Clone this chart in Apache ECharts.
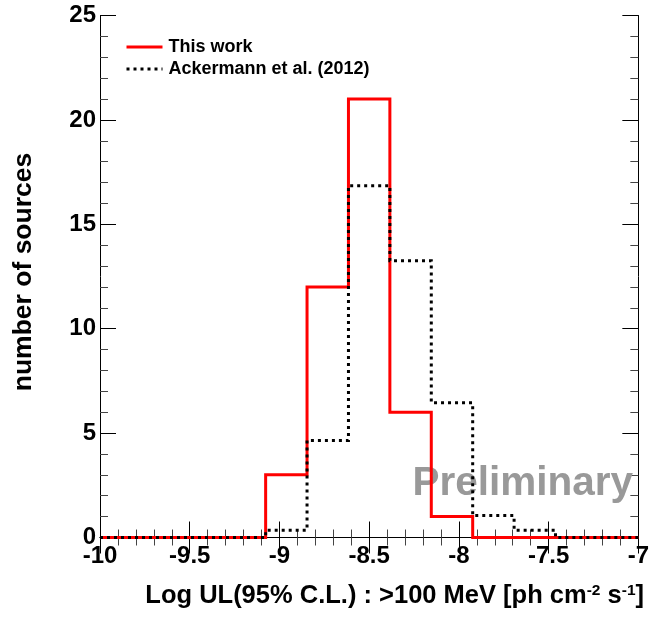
<!DOCTYPE html>
<html>
<head>
<meta charset="utf-8">
<script src="https://cdn.jsdelivr.net/npm/echarts@6/dist/echarts.min.js"></script>
<style>
html,body{margin:0;padding:0;background:#fff;}
#chart{width:652px;height:622px;}
</style>
</head>
<body>
<div id="chart"></div>
<script>
// Bin edges: 13 bins from -10 to -7
var binEdges = [-10, -9.7692, -9.5385, -9.3077, -9.0769, -8.8462, -8.6154, -8.3846, -8.1538, -7.9231, -7.6923, -7.4615, -7.2308, -7];
var thisWork = [0, 0, 0, 0, 3, 12, 21, 6, 1, 0, 0, 0, 0];
var ackermann = [0, 0, 0, 0, 0.35, 4.65, 16.85, 13.25, 6.45, 1.05, 0.35, 0, 0];
var xTickLabels = ['-10', '-9.5', '-9', '-8.5', '-8', '-7.5', '-7'];
var yTickLabels = ['0', '5', '10', '15', '20', '25'];

function stepData(vals) {
  var d = vals.map(function (v, i) { return [binEdges[i], v]; });
  d.push([binEdges[binEdges.length - 1], vals[vals.length - 1]]);
  return d;
}

var FONT = 'Liberation Sans';
var chart = echarts.init(document.getElementById('chart'), null, {renderer: 'canvas'});

function axisCommon(extra) {
  var base = {
    type: 'value',
    axisLine: {show: true, lineStyle: {color: '#000', width: 1}},
    axisTick: {show: true, inside: true, length: 16, lineStyle: {color: '#000', width: 1}},
    minorTick: {show: true, splitNumber: 5, length: 8, lineStyle: {color: '#444', width: 1}},
    splitLine: {show: false},
    minorSplitLine: {show: false}
  };
  for (var k in extra) base[k] = extra[k];
  return base;
}

var option = {
  animation: false,
  backgroundColor: '#fff',
  grid: {left: 100, right: 8, top: 15.5, bottom: 84.5, containLabel: false},
  legend: {
    orient: 'vertical',
    left: 125,
    top: 38,
    padding: 0,
    itemWidth: 36,
    itemHeight: 14,
    itemGap: 4,
    itemStyle: {opacity: 0},
    lineStyle: {width: 3},
    textStyle: {fontFamily: FONT, fontWeight: 'bold', fontSize: 18, color: '#000', lineHeight: 18, padding: [0, 0, 0, 1]},
    data: ['This work', 'Ackermann et al. (2012)']
  },
  xAxis: [
    axisCommon({
      position: 'bottom', min: -10, max: -7, interval: 0.5,
      axisLabel: {
        show: true, margin: 7, color: '#000', fontFamily: FONT, fontWeight: 'bold', fontSize: 24,
        showMinLabel: true, showMaxLabel: true,
        formatter: function (v) {
          var i = Math.round((v + 10) / 0.5);
          return xTickLabels[i] !== undefined ? xTickLabels[i] : '';
        }
      }
    }),
    axisCommon({
      position: 'top', min: -10, max: -7, interval: 0.5,
      axisLabel: {show: false}
    })
  ],
  yAxis: [
    axisCommon({
      position: 'left', min: 0, max: 25, interval: 5,
      axisLabel: {
        show: true, margin: 4, color: '#000', fontFamily: FONT, fontWeight: 'bold', fontSize: 24,
        formatter: function (v) {
          var i = Math.round(v / 5);
          return yTickLabels[i] !== undefined ? yTickLabels[i] : '';
        }
      }
    }),
    axisCommon({
      position: 'right', min: 0, max: 25, interval: 5,
      axisLabel: {show: false}
    })
  ],
  series: [
    {
      name: 'This work',
      type: 'line',
      step: 'end',
      symbol: 'none',
      xAxisIndex: 0, yAxisIndex: 0,
      lineStyle: {color: '#ff0000', width: 3, cap: 'butt', join: 'miter'},
      itemStyle: {color: '#ff0000'},
      z: 3,
      data: stepData(thisWork)
    },
    {
      name: 'Ackermann et al. (2012)',
      type: 'line',
      step: 'end',
      symbol: 'none',
      xAxisIndex: 0, yAxisIndex: 0,
      lineStyle: {color: '#000', width: 3, type: [3, 4], cap: 'butt', join: 'miter'},
      itemStyle: {color: '#000'},
      z: 4,
      data: stepData(ackermann)
    }
  ],
  graphic: [
    {
      type: 'text',
      x: 633, y: 484,
      z: 1,
      style: {
        text: 'Preliminary',
        fill: '#999999',
        font: 'bold 40.5px "Liberation Sans"',
        textAlign: 'right',
        textVerticalAlign: 'middle'
      }
    },
    {
      type: 'text',
      x: 24, y: 272,
      rotation: Math.PI / 2,
      style: {
        text: 'number of sources',
        fill: '#000',
        font: 'bold 26.5px "Liberation Sans"',
        textAlign: 'center',
        textVerticalAlign: 'middle'
      }
    },
    {
      type: 'text',
      x: 644, y: 596,
      style: {
        text: 'Log UL(95% C.L.) : >100 MeV [ph cm{sup|-2} s{sup|-1}]',
        fill: '#000',
        font: 'bold 25.5px "Liberation Sans"',
        textAlign: 'right',
        textVerticalAlign: 'middle',
        rich: {
          sup: {font: 'bold 15.5px "Liberation Sans"', fill: '#000', verticalAlign: 'top', lineHeight: 15}
        }
      }
    }
  ]
};
chart.setOption(option);
</script>
</body>
</html>
